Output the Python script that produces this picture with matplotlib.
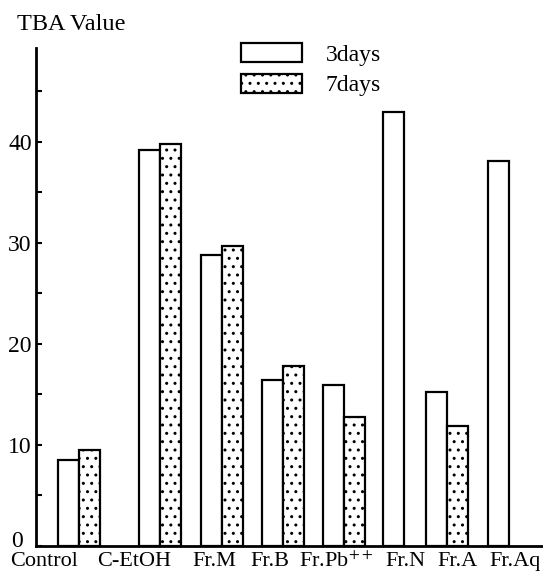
import numpy as np
import matplotlib
matplotlib.use('Agg')
import matplotlib.pyplot as plt
from matplotlib.transforms import ScaledTranslation

# data
groups = ['Control', 'C-EtOH', 'Fr.M', 'Fr.B', r'Fr.Pb$^{++}$', 'Fr.N', 'Fr.A', 'Fr.Aq']
days3 = [8.5, 39.2, 28.8, 16.4, 15.9, 43.0, 15.2, 38.1]
days7 = [9.5, 39.8, 29.7, 17.8, 12.8, np.nan, 11.9, np.nan]

# layout (x in pixel-like units)
bar_left = [58, 139, 201, 262, 323, 383, 426, 488]
label_x = [44, 134, 214, 270, 336, 405, 458, 515]
bw = 21

plt.rcParams['font.family'] = ['Liberation Serif', 'DejaVu Serif']
plt.rcParams['mathtext.fontset'] = 'stix'
plt.rcParams['hatch.linewidth'] = 1.0

fs = 17

fig = plt.figure(figsize=(5.43, 5.74), dpi=100)
ax = fig.add_axes([36/543, 28/574, 507/543, 498/574])

x3 = np.array(bar_left, dtype=float)
x7 = x3 + bw
ax.bar(x3, days3, width=bw, align='edge', facecolor='white', edgecolor='black', linewidth=1.6, label='3days')
ax.bar(x7, days7, width=bw, align='edge', facecolor='white', edgecolor='black', linewidth=1.6,
       hatch='..', label='7days')

ax.set_xlim(36, 543)
ax.set_ylim(0, 49.3)

ax.spines['top'].set_visible(False)
ax.spines['right'].set_visible(False)
ax.spines['left'].set_linewidth(2)
ax.spines['bottom'].set_linewidth(2)

ax.set_yticks([0, 10, 20, 30, 40])
ax.set_yticks([5, 15, 25, 35, 45], minor=True)
ax.tick_params(axis='y', which='both', direction='in', length=4, width=1.5, labelsize=fs, pad=3)
ax.set_xticks(label_x)
ax.set_xticklabels(groups)
ax.tick_params(axis='x', length=0, labelsize=16, pad=4)

# zero label sits a little above and left of the axis corner
zero_lab = ax.get_yticklabels()[0]
zero_lab.set_transform(zero_lab.get_transform() + ScaledTranslation(-9/100, 7/100, fig.dpi_scale_trans))

fig.text(17/543, 1 - 25/574, 'TBA Value', fontsize=fs + 0.5, va='center', ha='left')

leg = ax.legend(loc='upper left', bbox_to_anchor=(241/543, 1 - 43/574), bbox_transform=fig.transFigure,
                frameon=False, fontsize=fs, handlelength=2.58, handleheight=0.85,
                handletextpad=1.0, labelspacing=0.35, borderpad=0, borderaxespad=0)

fig.savefig('out.png', dpi=100)
